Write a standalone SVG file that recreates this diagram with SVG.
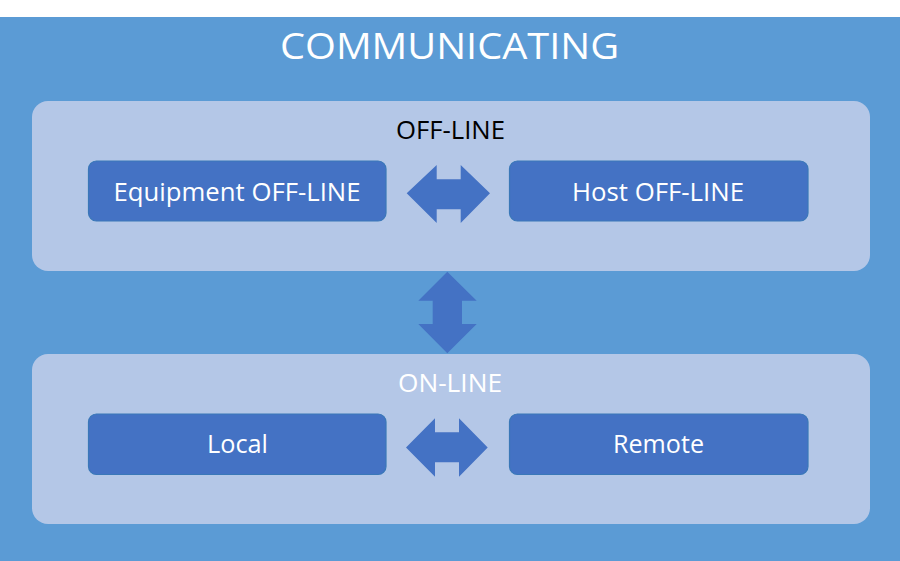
<svg xmlns="http://www.w3.org/2000/svg" width="900" height="561" viewBox="0 0 900 561">
<style>
.bg{fill:#5B9BD5}
.panel{fill:#B4C7E7}
.box{fill:#4472C4;stroke:#3A78B8;stroke-width:1.2}
.arrow{fill:#4472C4}
text{font-family:"Open Sans","Noto Sans","Liberation Sans",sans-serif;text-anchor:middle}
.title{font-size:37px;fill:#FFFFFF}
.lbl{font-size:25px}
.btxt{font-size:26px;fill:#FFFFFF}
</style>
<rect x="0" y="0" width="900" height="561" fill="#FFFFFF"/>
<g id="communicating">
<rect class="bg" x="0" y="17" width="900" height="544"/>
<text class="title" x="449.5" y="58.5" textLength="339" lengthAdjust="spacingAndGlyphs">COMMUNICATING</text>
</g>
<g id="offline">
<rect class="panel" x="32" y="101" width="838" height="170" rx="16"/>
<text class="lbl" x="450.5" y="139" fill="#000000" textLength="109" lengthAdjust="spacingAndGlyphs">OFF-LINE</text>
</g>
<g id="online">
<rect class="panel" x="32" y="354" width="838" height="170" rx="16"/>
<text class="lbl" x="450" y="392.3" fill="#FFFFFF" textLength="104" lengthAdjust="spacingAndGlyphs">ON-LINE</text>
</g>
<g id="equipment-offline">
<rect class="box" x="88.5" y="161" width="297.5" height="60" rx="8"/>
<text class="btxt" x="237" y="200.7" textLength="247" lengthAdjust="spacingAndGlyphs">Equipment OFF-LINE</text>
</g>
<g id="host-offline">
<rect class="box" x="509.5" y="161" width="298.5" height="60" rx="8"/>
<text class="btxt" x="658" y="200.7" textLength="172" lengthAdjust="spacingAndGlyphs">Host OFF-LINE</text>
</g>
<g id="local">
<rect class="box" x="88.5" y="414" width="297.5" height="60.5" rx="8"/>
<text class="btxt" x="237.5" y="452.7" textLength="61" lengthAdjust="spacingAndGlyphs">Local</text>
</g>
<g id="remote">
<rect class="box" x="509.5" y="414" width="298.5" height="60.5" rx="8"/>
<text class="btxt" x="658.5" y="452.7" textLength="91" lengthAdjust="spacingAndGlyphs">Remote</text>
</g>
<g id="connectors">
<polygon class="arrow" points="406.7,193.3 436.7,165 436.7,179.3 460.7,179.3 460.7,165 490,193.3 460.7,223 460.7,209.3 436.7,209.3 436.7,223"/>
<polygon class="arrow" points="447.3,271.7 476.7,300.7 462,300.7 462,324 476.7,324 447.3,353.3 418.3,324 432.7,324 432.7,300.7 418.3,300.7"/>
<polygon class="arrow" points="406,447.5 435,418.3 435,432.3 459,432.3 459,418.3 487.7,447.5 459,476.7 459,462.3 435,462.3 435,476.7"/>
</g>
</svg>
